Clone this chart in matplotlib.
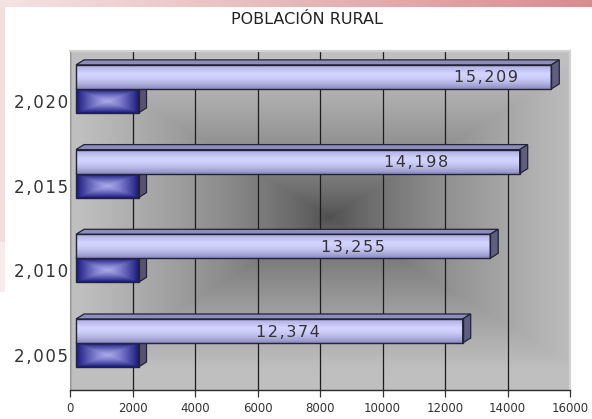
import numpy as np
import matplotlib
matplotlib.use("Agg")
import matplotlib.pyplot as plt
from matplotlib.patches import Polygon, Rectangle
from matplotlib.transforms import ScaledTranslation

# ---- data -------------------------------------------------------------
years = ["2,005", "2,010", "2,015", "2,020"]
rural = [12374, 13255, 14198, 15209]
rural_labels = ["12,374", "13,255", "14,198", "15,209"]
second = [2000, 2000, 2000, 2000]          # unlabelled second series
x_ticks = [0, 2000, 4000, 6000, 8000, 10000, 12000, 14000, 16000]
title = "POBLACIÓN RURAL"

# ---- layout (pixels) ----------------------------------------------------
W, H, DPI = 592, 419, 100
AX_L, AX_R, AX_T, AX_B = 70, 570, 51, 390
FRONT_DX = 6            # front plane shift of the bars
DEPTH = (8, 5)          # 3-D extrusion, right / up
BAR_PX = 24
SLOT_PX = 84.7
HAIR = "\u200a"


def spaced(s, gap=HAIR):
    return gap.join(s)


fig = plt.figure(figsize=(W / DPI, H / DPI), dpi=DPI)
fig.patch.set_facecolor("white")

# slide background: pink band on top, faint strip at the left
bg = fig.add_axes([0, 0, 1, 1], zorder=-5)
bg.set_xlim(0, W)
bg.set_ylim(H, 0)
bg.axis("off")
band = np.linspace(0, 1, 256)[None, :, None]
c0 = np.array([0.96, 0.89, 0.89])
c1 = np.array([0.85, 0.55, 0.56])
bg.imshow(c0 + (c1 - c0) * band, extent=(0, W, 7, 0), aspect="auto")
bg.add_patch(Rectangle((0, 7), 5, 235, color="#f3dede", lw=0))
bg.add_patch(Rectangle((0, 242), 5, 50, color="#f8ecec", lw=0))

ax = fig.add_axes([AX_L / W, (H - AX_B) / H, (AX_R - AX_L) / W,
                   (AX_B - AX_T) / H])
ypos = np.arange(len(years))
y_lo = -(AX_B - 343) / SLOT_PX
y_hi = y_lo + (AX_B - AX_T) / SLOT_PX
ax.set_xlim(x_ticks[0], x_ticks[-1])
ax.set_ylim(y_lo, y_hi)
h = BAR_PX / SLOT_PX

# back wall: rectangular "from centre" gradient
nx, ny = 500, 339
u = np.linspace(0, 1, nx)[None, :]
v = np.linspace(0, 1, ny)[:, None]
t = np.clip(np.maximum(np.abs(u - 0.52) / 0.5, np.abs(v - 0.49) / 0.45), 0, 1)
g = 0.30 + (0.75 - 0.30) * t ** 0.7
ax.imshow(np.dstack([g, g, g]), extent=(x_ticks[0], x_ticks[-1], y_lo, y_hi),
          aspect="auto", zorder=0)

ax.set_xticks(x_ticks)
ax.set_xticklabels([str(x) for x in x_ticks], fontsize=8.5, color="#333333")
ax.grid(axis="x", color="#1c1c1c", lw=0.9, zorder=1)
ax.set_axisbelow(True)
ax.tick_params(axis="x", length=5, width=0.9, color="#333333", pad=3.5)
ax.set_yticks(ypos - h / 2)
ax.set_yticklabels([spaced(y) for y in years], fontsize=12,
                   color="#333333")
ax.tick_params(axis="y", length=0, pad=1.5)
ax.spines["left"].set_color("#9a9a9a")
ax.spines["bottom"].set_color("#2a2a2a")
ax.spines["bottom"].set_linewidth(1.0)
for side in ("top", "right"):
    ax.spines[side].set_color("#d2d2d2")
    ax.spines[side].set_linewidth(1.6)

off = ax.transData + ScaledTranslation(FRONT_DX / DPI, 0, fig.dpi_scale_trans)
p0 = ax.transData.transform((0, 0))
p1 = ax.transData.transform((1, 1))
ddx = DEPTH[0] / (p1[0] - p0[0])
ddy = DEPTH[1] / (p1[1] - p0[1])

# gradients for the bar faces
gv = np.linspace(0, 1, 64)[:, None]
top_c = np.array([0.68, 0.68, 0.87])
mid_c = np.array([0.83, 0.83, 1.00])
bot_c = np.array([0.54, 0.54, 0.74])
big_grad = np.where(gv < 0.35, top_c + (mid_c - top_c) * (gv / 0.35),
                    mid_c + (bot_c - mid_c) * ((gv - 0.35) / 0.65) ** 1.8)
big_grad = np.repeat(big_grad[:, None, :], 4, axis=1)

su = np.linspace(0, 1, 64)[None, :]
sv = np.linspace(0, 1, 32)[:, None]
st = np.clip(np.maximum(np.abs(su - 0.5) / 0.5, np.abs(sv - 0.5) / 0.5), 0, 1)
navy = np.array([0.10, 0.10, 0.50])
light = np.array([0.66, 0.66, 0.92])
small_grad = light + (navy - light) * (st ** 1.3)[..., None]


def draw_bar(y0, val, grad, top_col, end_col, z):
    rect = Rectangle((0, y0), val, h, transform=off, facecolor="none",
                     edgecolor="#22223a", lw=1.0, zorder=z + 1)
    ax.add_patch(rect)
    im = ax.imshow(grad, extent=(0, val, y0, y0 + h), aspect="auto",
                   zorder=z, interpolation="bilinear")
    im.set_transform(off)
    im.set_clip_path(rect)
    top = Polygon([(0, y0 + h), (val, y0 + h), (val + ddx, y0 + h + ddy),
                   (ddx, y0 + h + ddy)], closed=True, transform=off,
                  facecolor=top_col, edgecolor="#22223a", lw=0.9, zorder=z)
    end = Polygon([(val, y0), (val, y0 + h), (val + ddx, y0 + h + ddy),
                   (val + ddx, y0 + ddy)], closed=True, transform=off,
                  facecolor=end_col, edgecolor="#22223a", lw=0.9, zorder=z)
    ax.add_patch(top)
    ax.add_patch(end)


for i in ypos:
    draw_bar(i - h, second[i], small_grad, "#5a5a8a", "#54546e", 3 + 3 * i)
    draw_bar(i, rural[i], big_grad, "#8e8eba", "#5e5e7e", 4 + 3 * i)

# value labels sit inside the bars, further left on shorter bars
label_x = [6784, 8864, 10880, 13120]
for i in ypos:
    ax.text(label_x[i], i + h / 2 - 0.012, spaced(rural_labels[i]),
            transform=off, ha="center", va="center", fontsize=11.5,
            color="#333333", zorder=20)

fig.text(307 / W, 1 - 20 / H, title, ha="center", va="center",
         fontsize=11.5, color="#222222")

fig.savefig("out.png", dpi=DPI)
